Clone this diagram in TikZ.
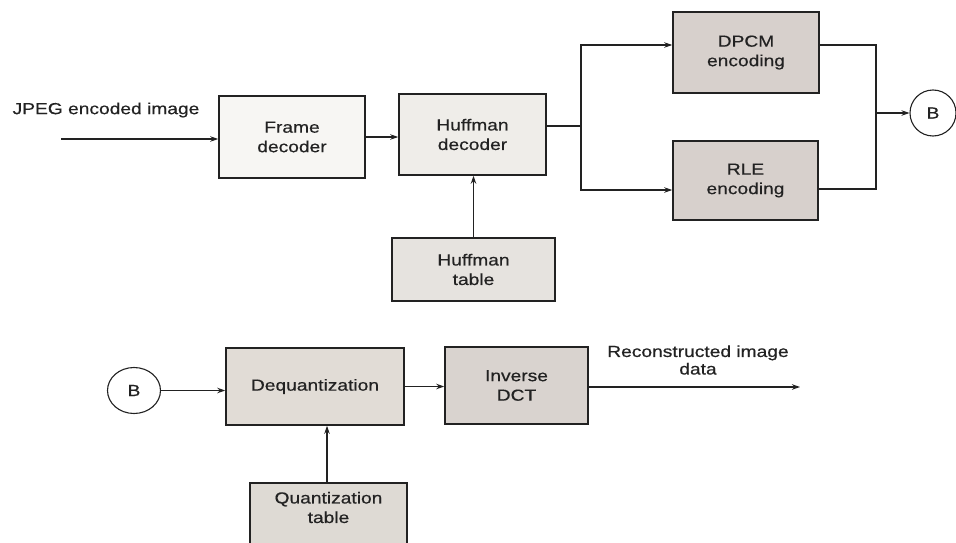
\documentclass[tikz,border=0pt]{standalone}
\usepackage{fontspec}
\setmainfont[FakeStretch=1.2, FakeBold=0.5]{Liberation Sans}
\usetikzlibrary{arrows.meta,shapes.geometric}

\definecolor{ink}{HTML}{222222}
\definecolor{fillA}{HTML}{F7F6F3}
\definecolor{fillB}{HTML}{EFEDE9}
\definecolor{fillC}{HTML}{E6E3DF}
\definecolor{fillD}{HTML}{D7D0CC}
\definecolor{fillE}{HTML}{E1DCD6}
\definecolor{fillF}{HTML}{D9D3CF}
\definecolor{fillG}{HTML}{DEDAD4}

\tikzset{
  blk/.style={draw=ink, line width=1.6pt, rectangle, align=center,
    font=\fontsize{16}{19.5}\selectfont, text=ink, inner sep=0pt},
  conn/.style={ellipse, draw=ink, line width=1.1pt, inner sep=0pt,
    font=\fontsize{16}{19.5}\selectfont, text=ink},
  wire/.style={draw=ink, line width=1.1pt},
  arr/.style={wire, -{Stealth[length=8pt,width=5.5pt]}},
  lbl/.style={align=center, font=\fontsize{16}{17.5}\selectfont, text=ink, inner sep=0pt}
}

\begin{document}
\begin{tikzpicture}[x=1pt, y=-1pt]
  \useasboundingbox[fill=white] (0,0) rectangle (956,543);

  % --- upper chain: decoding ---
  \node[blk, fill=fillA, minimum width=146pt, minimum height=82pt] (frame) at (292,137) {Frame\\decoder};
  \node[blk, fill=fillB, minimum width=147pt, minimum height=81pt] (huffdec) at (472.5,134.5) {Huffman\\decoder};
  \node[blk, fill=fillC, minimum width=163pt, minimum height=63pt] (hufftab) at (473.5,269.5) {Huffman\\table};
  \node[blk, fill=fillD, minimum width=146pt, minimum height=81pt] (dpcm) at (746,52.5) {DPCM\\encoding};
  \node[blk, fill=fillD, minimum width=145pt, minimum height=79pt] (rle) at (745.5,180.5) {RLE\\encoding};
  \node[conn, minimum width=46pt, minimum height=46pt] (Btop) at (933,113) {B};

  \node[lbl] (inlabel) at (106,110) {JPEG encoded image};
  \coordinate (in) at (61,139);

  % --- lower chain: reconstruction ---
  \node[conn, minimum width=53pt, minimum height=46pt] (Bbot) at (134,390.5) {B};
  \node[blk, fill=fillE, minimum width=178pt, minimum height=77pt] (deq) at (315,386.5) {Dequantization};
  \node[blk, fill=fillF, minimum width=143pt, minimum height=77pt] (idct) at (516.5,385.5) {Inverse\\DCT};
  \node[blk, fill=fillG, minimum width=157pt, minimum height=63pt,
        label={[lbl, font=\fontsize{16}{19.5}\selectfont, yshift=7pt]center:Quantization\\table}] (qtab) at (328.5,514.5) {};
  \node[lbl] (outlabel) at (698,360) {Reconstructed image\\data};
  \coordinate (out) at (800,387);

  % --- connectors, upper chain ---
  \draw[arr] (in) -- (in -| frame.west);
  \draw[arr] (frame.east) -- (frame.east -| huffdec.west);
  \draw[arr] (hufftab.north) -- (hufftab.north |- huffdec.south);

  \coordinate (split) at (581,126);
  \coordinate (splittop) at (581,45);
  \coordinate (splitbot) at (581,190);
  \draw[wire] (huffdec.east |- split) -- (split);
  \draw[arr] (split) -- (splittop) -- (splittop -| dpcm.west);
  \draw[arr] (split) -- (splitbot) -- (splitbot -| rle.west);

  \coordinate (jtop) at (876,45);
  \coordinate (jbot) at (876,189);
  \coordinate (join) at (876,113);
  \draw[wire] (jtop -| dpcm.east) -- (jtop) -- (jbot) -- (jbot -| rle.east);
  \draw[arr] (join) -- (Btop.west);

  % --- connectors, lower chain ---
  \draw[arr] (Bbot.east) -- (Bbot.east -| deq.west);
  \draw[arr] (deq.east) -- (deq.east -| idct.west);
  \draw[arr] (idct.east |- out) -- (out);
  \draw[arr] (qtab.north -| 327,0) -- (deq.south -| 327,0);
\end{tikzpicture}
\end{document}
